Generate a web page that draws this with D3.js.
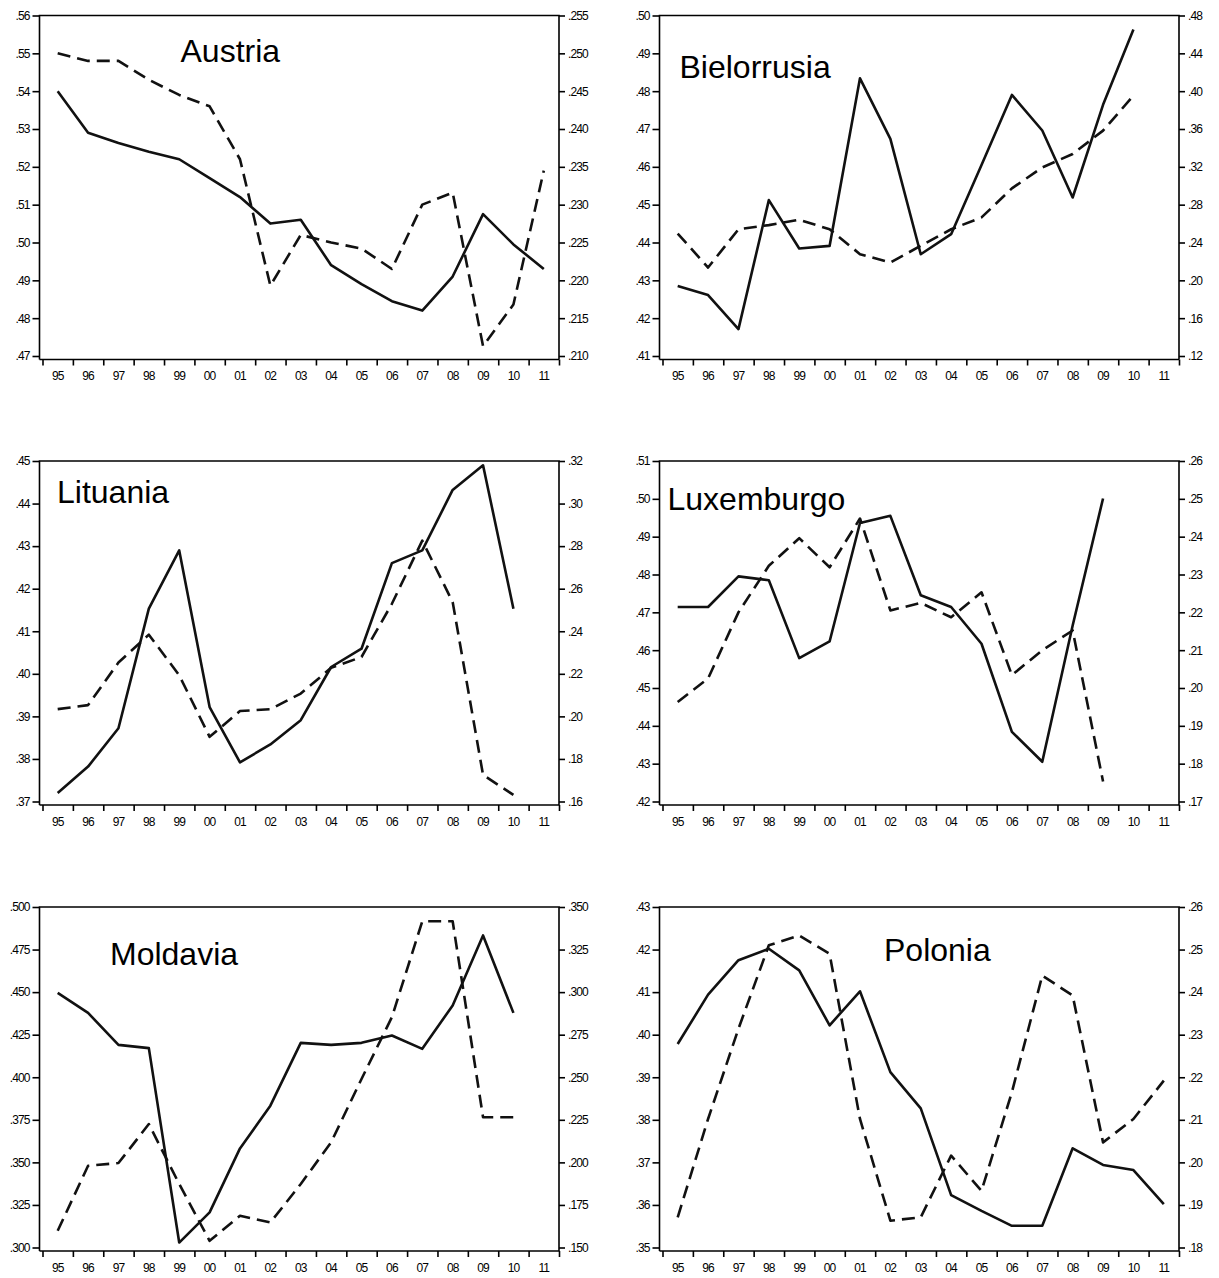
<!DOCTYPE html>
<html>
<head>
<meta charset="utf-8">
<script src="https://cdn.jsdelivr.net/npm/d3@7"></script>
<style>
  html, body { margin: 0; padding: 0; background: #fff; }
  svg { display: block; }
  .tick text { font-family: "Liberation Sans", Arial, sans-serif; font-size: 12px; letter-spacing: -0.9px; fill: #000; }
  .title { font-family: "Liberation Sans", Arial, sans-serif; font-size: 32px; fill: #000; }
</style>
</head>
<body>
<div id="chart"></div>
<script>
// Years on the horizontal axis
const YEARS = ['95','96','97','98','99','00','01','02','03','04','05','06','07','08','09','10','11'];

// Austria
const AUSTRIA_SOLID  = [.540,.529,.5263,.524,.522,.517,.512,.505,.506,.494,.489,.4845,.482,.491,.5075,.4995,.493];
const AUSTRIA_DASHED = [.250,.249,.249,.2465,.2445,.243,.236,.2193,.226,.225,.2242,.2215,.230,.2316,.2113,.2168,.2345];
const AUSTRIA_LEFT_TICKS  = [.47,.48,.49,.50,.51,.52,.53,.54,.55,.56];
const AUSTRIA_RIGHT_TICKS = [.210,.215,.220,.225,.230,.235,.240,.245,.250,.255];

// Bielorrusia
const BELARUS_SOLID  = [.4285,.4261,.4171,.4512,.4384,.4391,.4834,.4674,.4369,.4422,.4605,.479,.4696,.4519,.4764,.4963,null];
const BELARUS_DASHED = [.2495,.2135,.254,.2584,.264,.254,.2277,.2188,.2365,.254,.2665,.2972,.3194,.3336,.3583,.3953,null];
const BELARUS_LEFT_TICKS  = [.41,.42,.43,.44,.45,.46,.47,.48,.49,.50];
const BELARUS_RIGHT_TICKS = [.12,.16,.20,.24,.28,.32,.36,.40,.44,.48];

// Lituania
const LITHUANIA_SOLID  = [.372,.3782,.3872,.4153,.429,.3922,.3792,.3834,.3891,.4016,.4059,.426,.429,.4432,.449,.4153,null];
const LITHUANIA_DASHED = [.2034,.2053,.2253,.2384,.2193,.1904,.2025,.2034,.2107,.2228,.2279,.2529,.2826,.2537,.1725,.1631,null];
const LITHUANIA_LEFT_TICKS  = [.37,.38,.39,.40,.41,.42,.43,.44,.45];
const LITHUANIA_RIGHT_TICKS = [.16,.18,.20,.22,.24,.26,.28,.30,.32];

// Luxemburgo
const LUXEMBOURG_SOLID  = [.4714,.4714,.4795,.4785,.4579,.4623,.4936,.4955,.4745,.4714,.4617,.4384,.4305,.4665,.5001,null,null];
const LUXEMBOURG_DASHED = [.1963,.2025,.22,.2323,.2396,.2319,.2448,.2205,.2225,.2187,.2253,.2034,.21,.2152,.1753,null,null];
const LUXEMBOURG_LEFT_TICKS  = [.42,.43,.44,.45,.46,.47,.48,.49,.50,.51];
const LUXEMBOURG_RIGHT_TICKS = [.17,.18,.19,.20,.21,.22,.23,.24,.25,.26];

// Moldavia
const MOLDOVA_SOLID  = [.4496,.4378,.419,.4171,.3029,.3206,.3582,.3833,.4202,.419,.4202,.4245,.4167,.4422,.4833,.4378,null];
const MOLDOVA_DASHED = [.1598,.198,.1996,.2225,.1873,.1539,.1686,.1647,.1873,.2118,.249,.2853,.3416,.3416,.2265,.2265,null];
const MOLDOVA_LEFT_TICKS  = [.300,.325,.350,.375,.400,.425,.450,.475,.500];
const MOLDOVA_RIGHT_TICKS = [.150,.175,.200,.225,.250,.275,.300,.325,.350];

// Polonia
const POLAND_SOLID  = [.3978,.4094,.4175,.4202,.4151,.4022,.4102,.3912,.3827,.3623,.3586,.3551,.3551,.3733,.3694,.3682,.3602];
const POLAND_DASHED = [.1871,.2102,.2314,.251,.2533,.249,.2102,.1863,.1871,.2016,.1933,.2165,.2439,.2392,.2047,.2102,.2192];
const POLAND_LEFT_TICKS  = [.35,.36,.37,.38,.39,.40,.41,.42,.43];
const POLAND_RIGHT_TICKS = [.18,.19,.20,.21,.22,.23,.24,.25,.26];

const W = 1219, H = 1278;
const PW = 519.5, PH = 340.5;
const COLS = [39.5, 659.5];
const ROWS = [15.5, 461, 907];

const panels = [
  { name: 'Austria',     solid: AUSTRIA_SOLID,    dashed: AUSTRIA_DASHED,    lt: AUSTRIA_LEFT_TICKS,    rt: AUSTRIA_RIGHT_TICKS,    ld: 2, rd: 3, col: 0, row: 0, tx: 141, ty: 46.5 },
  { name: 'Bielorrusia', solid: BELARUS_SOLID,    dashed: BELARUS_DASHED,    lt: BELARUS_LEFT_TICKS,    rt: BELARUS_RIGHT_TICKS,    ld: 2, rd: 2, col: 1, row: 0, tx: 20,  ty: 62 },
  { name: 'Lituania',    solid: LITHUANIA_SOLID,  dashed: LITHUANIA_DASHED,  lt: LITHUANIA_LEFT_TICKS,  rt: LITHUANIA_RIGHT_TICKS,  ld: 2, rd: 2, col: 0, row: 1, tx: 17.5, ty: 41.5 },
  { name: 'Luxemburgo',  solid: LUXEMBOURG_SOLID, dashed: LUXEMBOURG_DASHED, lt: LUXEMBOURG_LEFT_TICKS, rt: LUXEMBOURG_RIGHT_TICKS, ld: 2, rd: 2, col: 1, row: 1, tx: 8,   ty: 49 },
  { name: 'Moldavia',    solid: MOLDOVA_SOLID,    dashed: MOLDOVA_DASHED,    lt: MOLDOVA_LEFT_TICKS,    rt: MOLDOVA_RIGHT_TICKS,    ld: 3, rd: 3, col: 0, row: 2, tx: 70.5, ty: 57.5 },
  { name: 'Polonia',     solid: POLAND_SOLID,     dashed: POLAND_DASHED,     lt: POLAND_LEFT_TICKS,     rt: POLAND_RIGHT_TICKS,     ld: 2, rd: 2, col: 1, row: 2, tx: 224.5, ty: 54 },
];

const svg = d3.select('#chart').append('svg')
  .attr('width', W).attr('height', H);

// strip the leading zero, e.g. 0.56 -> .56
const trimFmt = d => f => d3.format('.' + d + 'f')(f).replace(/^0/, '');

panels.forEach(p => {
  const x0 = COLS[p.col], y0 = ROWS[p.row];
  const g = svg.append('g').attr('transform', `translate(${x0},${y0})`);

  const x = d3.scaleBand().domain(YEARS).range([3, PW]);
  const yL = d3.scaleLinear().domain(d3.extent(p.lt)).range([PH, 0]);
  const yR = d3.scaleLinear().domain(d3.extent(p.rt)).range([PH, 0]);
  const bounds = d3.scaleLinear().domain([0, YEARS.length]).range([3, PW]);

  const axisY = PH + 3.5;

  // left axis
  g.append('g')
    .call(d3.axisLeft(yL).tickValues(p.lt).tickSize(7).tickPadding(3).tickFormat(trimFmt(p.ld)))
    .call(a => a.select('.domain').remove());
  // right axis
  g.append('g').attr('transform', `translate(${PW},0)`)
    .call(d3.axisRight(yR).tickValues(p.rt).tickSize(6).tickPadding(3).tickFormat(trimFmt(p.rd)))
    .call(a => a.select('.domain').remove());

  // x axis: boundary ticks + centered labels
  g.append('g').attr('transform', `translate(0,${axisY})`)
    .call(d3.axisBottom(bounds).tickValues(d3.range(YEARS.length + 1)).tickSize(6).tickFormat(''))
    .call(a => a.select('.domain').remove());
  g.append('g').attr('transform', `translate(0,${axisY})`)
    .call(d3.axisBottom(x).tickSize(0).tickPadding(12))
    .call(a => a.select('.domain').remove());

  g.selectAll('.tick line').attr('stroke', '#000').attr('stroke-width', 1.6);

  // frame
  g.append('path')
    .attr('d', `M0,${axisY}V0H${PW}V${axisY}M0,${axisY}H${PW}`)
    .attr('fill', 'none').attr('stroke', '#000').attr('stroke-width', 1.6);

  const cx = d => x(d) + x.bandwidth() / 2;

  const lineL = d3.line().defined(d => d[1] != null).x(d => cx(d[0])).y(d => yL(d[1]));
  const lineR = d3.line().defined(d => d[1] != null).x(d => cx(d[0])).y(d => yR(d[1]));

  g.append('path')
    .datum(YEARS.map((yr, i) => [yr, p.dashed[i]]))
    .attr('d', lineR)
    .attr('fill', 'none').attr('stroke', '#111').attr('stroke-width', 2.6)
    .attr('stroke-dasharray', '13,7').attr('stroke-linejoin', 'round');

  g.append('path')
    .datum(YEARS.map((yr, i) => [yr, p.solid[i]]))
    .attr('d', lineL)
    .attr('fill', 'none').attr('stroke', '#111').attr('stroke-width', 2.6)
    .attr('stroke-linejoin', 'round');

  g.append('text').attr('class', 'title')
    .attr('x', p.tx).attr('y', p.ty)
    .text(p.name);
});
</script>
</body>
</html>
